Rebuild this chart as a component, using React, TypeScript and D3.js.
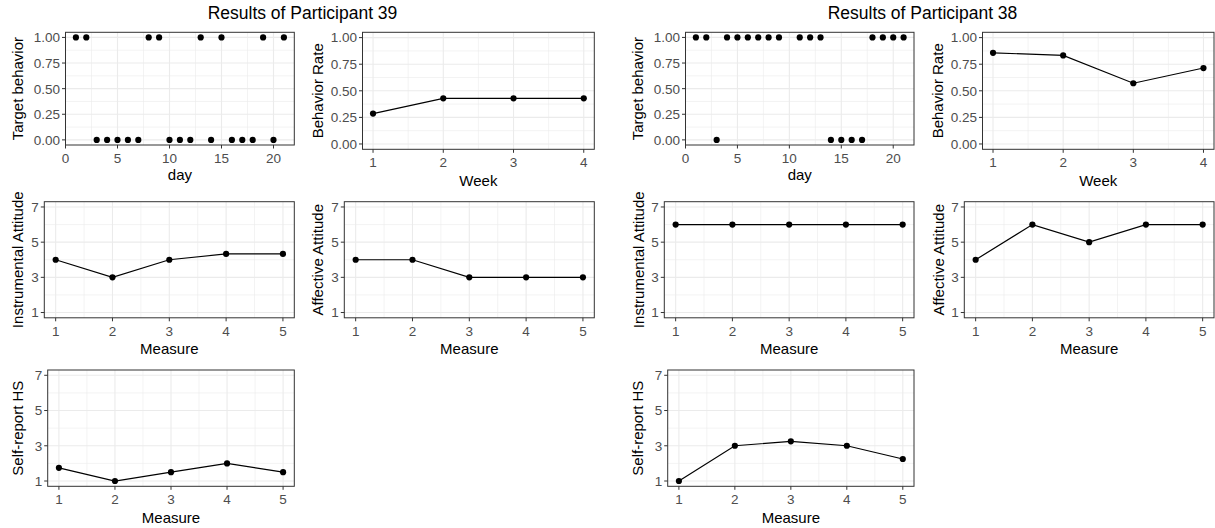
import React from "react";
import * as d3 from "d3";

// ---- data ----
const days39 = [1, 2, 3, 4, 5, 6, 7, 8, 9, 10, 11, 12, 13, 14, 15, 16, 17, 18, 19, 20, 21];
const target39 = [1, 1, 0, 0, 0, 0, 0, 1, 1, 0, 0, 0, 1, 0, 1, 0, 0, 0, 1, 0, 1];
const days38 = [1, 2, 3, 4, 5, 6, 7, 8, 9, 11, 12, 13, 14, 15, 16, 17, 18, 19, 20, 21];
const target38 = [1, 1, 0, 1, 1, 1, 1, 1, 1, 1, 1, 1, 0, 0, 0, 0, 1, 1, 1, 1];

const weeks = [1, 2, 3, 4];
const rate39 = [0.286, 0.429, 0.429, 0.429];
const rate38 = [0.857, 0.833, 0.571, 0.714];

const measures = [1, 2, 3, 4, 5];
const instr39 = [4, 3, 4, 4.33, 4.33];
const affect39 = [4, 4, 3, 3, 3];
const selfHS39 = [1.75, 1, 1.5, 2, 1.5];
const instr38 = [6, 6, 6, 6, 6];
const affect38 = [4, 6, 5, 6, 6];
const selfHS38 = [1, 3, 3.25, 3, 2.25];

const dayTicks = [0, 5, 10, 15, 20];
const rateTicks = [0, 0.25, 0.5, 0.75, 1];
const scaleTicks = [1, 3, 5, 7];

const FONT = "'Liberation Sans', Arial, sans-serif";

// ggplot-style minor breaks: halfway between majors, kept inside the limits
function minorOf(ticks: number[], domain: number[]) {
  const step = ticks[1] - ticks[0];
  const out: number[] = [];
  [ticks[0] - step, ...ticks].forEach((t) => {
    const m = t + step / 2;
    if (m > domain[0] && m < domain[1]) out.push(m);
  });
  return out;
}

function Panel({ box, xDomain, yDomain, xTicks, yTicks, xs, ys, line, xLabel, yLabel, yTitleX, xTitleY, yFmt }: any) {
  const x = d3.scaleLinear().domain(xDomain).range([box.x0, box.x1]);
  const y = d3.scaleLinear().domain(yDomain).range([box.y1, box.y0]);
  const pts = xs.map((v: number, i: number) => [v, ys[i]] as [number, number]);
  const path = d3.line<[number, number]>().x((d) => x(d[0])).y((d) => y(d[1]))(pts);
  const fmt = yFmt || ((v: number) => String(v));
  const cx = (box.x0 + box.x1) / 2;
  const cy = (box.y0 + box.y1) / 2;
  return (
    <g>
      <rect x={box.x0} y={box.y0} width={box.x1 - box.x0} height={box.y1 - box.y0} fill="#fff" />
      {/* minor grid */}
      {minorOf(xTicks, xDomain).map((t) => (
        <line key={"mx" + t} x1={x(t)} x2={x(t)} y1={box.y0} y2={box.y1} stroke="#EBEBEB" strokeWidth={0.6} />
      ))}
      {minorOf(yTicks, yDomain).map((t) => (
        <line key={"my" + t} x1={box.x0} x2={box.x1} y1={y(t)} y2={y(t)} stroke="#EBEBEB" strokeWidth={0.6} />
      ))}
      {/* major grid */}
      {xTicks.map((t: number) => (
        <line key={"gx" + t} x1={x(t)} x2={x(t)} y1={box.y0} y2={box.y1} stroke="#EBEBEB" strokeWidth={1.1} />
      ))}
      {yTicks.map((t: number) => (
        <line key={"gy" + t} x1={box.x0} x2={box.x1} y1={y(t)} y2={y(t)} stroke="#EBEBEB" strokeWidth={1.1} />
      ))}
      {line && <path d={path || ""} fill="none" stroke="#000" strokeWidth={1.2} />}
      {pts.map((d: [number, number], i: number) => (
        <circle key={i} cx={x(d[0])} cy={y(d[1])} r={3.1} fill="#000" />
      ))}
      <rect x={box.x0} y={box.y0} width={box.x1 - box.x0} height={box.y1 - box.y0} fill="none" stroke="#333" strokeWidth={1} />
      {/* axes */}
      {xTicks.map((t: number) => (
        <g key={"tx" + t}>
          <line x1={x(t)} x2={x(t)} y1={box.y1} y2={box.y1 + 3.5} stroke="#333" strokeWidth={1} />
          <text x={x(t)} y={box.y1 + 18} textAnchor="middle" fontSize={13.5} fill="#4D4D4D" fontFamily={FONT}>
            {t}
          </text>
        </g>
      ))}
      {yTicks.map((t: number) => (
        <g key={"ty" + t}>
          <line x1={box.x0 - 3.5} x2={box.x0} y1={y(t)} y2={y(t)} stroke="#333" strokeWidth={1} />
          <text x={box.x0 - 5.5} y={y(t)} dy="0.36em" textAnchor="end" fontSize={13.5} fill="#4D4D4D" fontFamily={FONT}>
            {fmt(t)}
          </text>
        </g>
      ))}
      <text x={cx} y={xTitleY} textAnchor="middle" fontSize={15} fill="#000" fontFamily={FONT}>
        {xLabel}
      </text>
      <text transform={`translate(${yTitleX},${cy}) rotate(-90)`} textAnchor="middle" fontSize={15} fill="#000" fontFamily={FONT}>
        {yLabel}
      </text>
    </g>
  );
}

export default function App() {
  const rateFmt = d3.format(".2f");
  const dayDomain = [0, 22];
  const rateDomain = [-0.05, 1.05];
  const weekDomain = [0.85, 4.15];
  const measDomain = [0.8, 5.2];
  const scaleDomain = [0.7, 7.3];

  const row1a = { y0: 32.3, y1: 145 };
  const row1b = { y0: 32.3, y1: 149.3 };
  const row2 = { y0: 201.7, y1: 317.8 };
  const row3 = { y0: 370, y1: 486.3 };

  const panels = [
    { box: { x0: 65.5, x1: 294.3, ...row1a }, xDomain: dayDomain, yDomain: rateDomain, xTicks: dayTicks, yTicks: rateTicks, xs: days39, ys: target39, line: false, xLabel: "day", yLabel: "Target behavior", yTitleX: 23, xTitleY: 179.5, yFmt: rateFmt },
    { box: { x0: 362.5, x1: 594.3, ...row1b }, xDomain: weekDomain, yDomain: rateDomain, xTicks: weeks, yTicks: rateTicks, xs: weeks, ys: rate39, line: true, xLabel: "Week", yLabel: "Behavior Rate", yTitleX: 323, xTitleY: 185.5, yFmt: rateFmt },
    { box: { x0: 685.5, x1: 914, ...row1a }, xDomain: dayDomain, yDomain: rateDomain, xTicks: dayTicks, yTicks: rateTicks, xs: days38, ys: target38, line: false, xLabel: "day", yLabel: "Target behavior", yTitleX: 643, xTitleY: 179.5, yFmt: rateFmt },
    { box: { x0: 982.5, x1: 1214, ...row1b }, xDomain: weekDomain, yDomain: rateDomain, xTicks: weeks, yTicks: rateTicks, xs: weeks, ys: rate38, line: true, xLabel: "Week", yLabel: "Behavior Rate", yTitleX: 943, xTitleY: 185.5, yFmt: rateFmt },
    { box: { x0: 44.3, x1: 294.3, ...row2 }, xDomain: measDomain, yDomain: scaleDomain, xTicks: measures, yTicks: scaleTicks, xs: measures, ys: instr39, line: true, xLabel: "Measure", yLabel: "Instrumental Attitude", yTitleX: 23, xTitleY: 354 },
    { box: { x0: 344.3, x1: 594.3, ...row2 }, xDomain: measDomain, yDomain: scaleDomain, xTicks: measures, yTicks: scaleTicks, xs: measures, ys: affect39, line: true, xLabel: "Measure", yLabel: "Affective Attitude", yTitleX: 323, xTitleY: 354 },
    { box: { x0: 664.3, x1: 914, ...row2 }, xDomain: measDomain, yDomain: scaleDomain, xTicks: measures, yTicks: scaleTicks, xs: measures, ys: instr38, line: true, xLabel: "Measure", yLabel: "Instrumental Attitude", yTitleX: 643.5, xTitleY: 354 },
    { box: { x0: 964.3, x1: 1214, ...row2 }, xDomain: measDomain, yDomain: scaleDomain, xTicks: measures, yTicks: scaleTicks, xs: measures, ys: affect38, line: true, xLabel: "Measure", yLabel: "Affective Attitude", yTitleX: 943.5, xTitleY: 354 },
    { box: { x0: 47.7, x1: 294.3, ...row3 }, xDomain: measDomain, yDomain: scaleDomain, xTicks: measures, yTicks: scaleTicks, xs: measures, ys: selfHS39, line: true, xLabel: "Measure", yLabel: "Self-report HS", yTitleX: 22.5, xTitleY: 523 },
    { box: { x0: 667.7, x1: 914, ...row3 }, xDomain: measDomain, yDomain: scaleDomain, xTicks: measures, yTicks: scaleTicks, xs: measures, ys: selfHS38, line: true, xLabel: "Measure", yLabel: "Self-report HS", yTitleX: 642.5, xTitleY: 523 },
  ];

  return (
    <div style={{ position: "absolute", left: 0, top: 0 }}>
      <svg width={1215} height={528} style={{ display: "block", background: "#fff" }}>
        <text x={302.5} y={18.5} textAnchor="middle" fontSize={17.5} fill="#000" fontFamily={FONT}>
          Results of Participant 39
        </text>
        <text x={922.5} y={18.5} textAnchor="middle" fontSize={17.5} fill="#000" fontFamily={FONT}>
          Results of Participant 38
        </text>
        {panels.map((p, i) => (
          <Panel key={i} {...p} />
        ))}
      </svg>
    </div>
  );
}
